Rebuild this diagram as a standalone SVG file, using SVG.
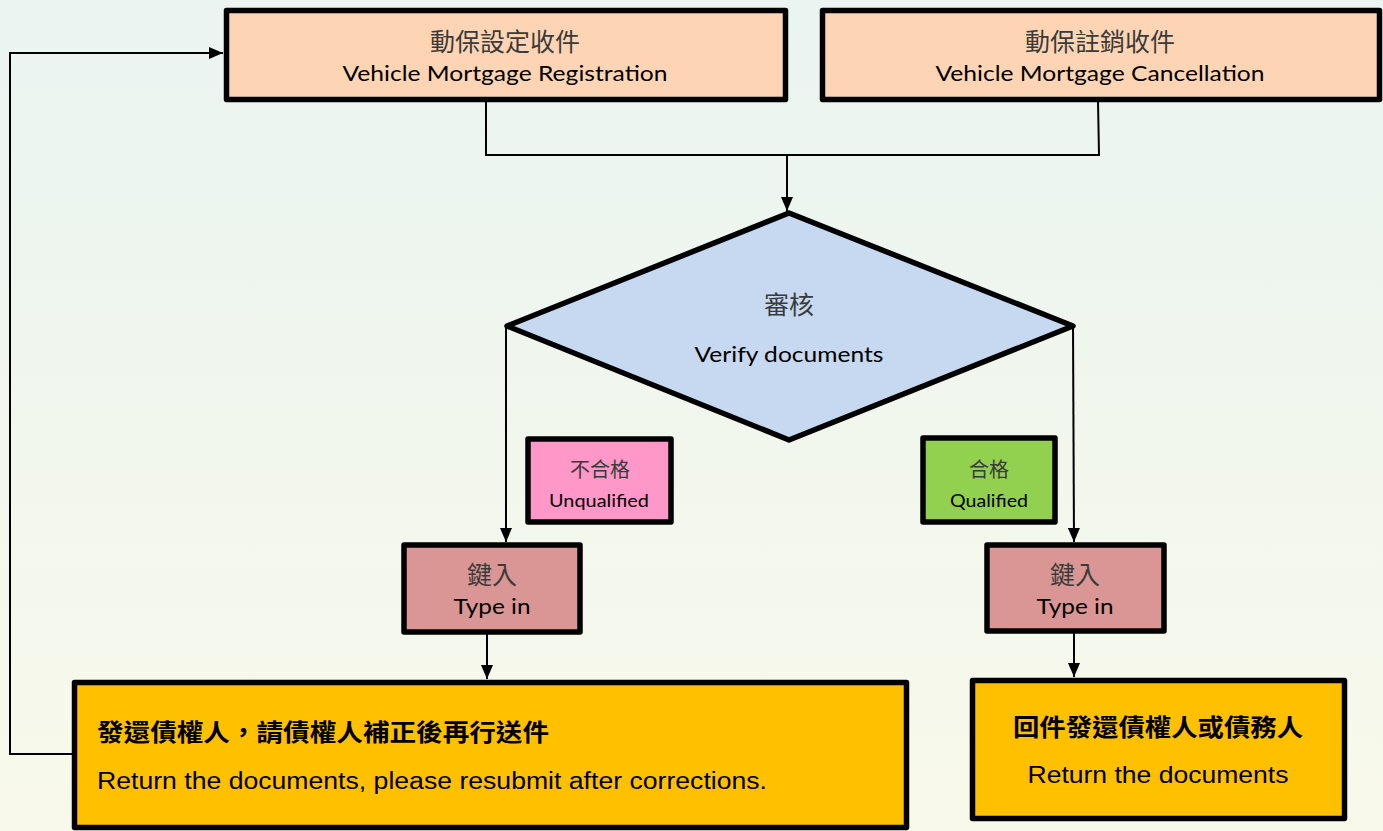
<svg xmlns="http://www.w3.org/2000/svg" width="1383" height="831" viewBox="0 0 1383 831">
<defs>
<linearGradient id="bg" x1="0" y1="0" x2="0" y2="1">
<stop offset="0" stop-color="#EAF4F1"/>
<stop offset="1" stop-color="#F8F9EA"/>
</linearGradient>
<marker id="arr" viewBox="0 0 14 12" refX="14" refY="6" markerWidth="14" markerHeight="12" markerUnits="userSpaceOnUse" orient="auto">
<path d="M0,0 L14,6 L0,12 Z" fill="#000"/>
</marker>
<style>
.box{stroke:#000;stroke-width:5.5;stroke-linejoin:round}
.conn{fill:none;stroke:#000;stroke-width:2}
.cjk{font-family:"Noto Sans CJK TC","Noto Sans CJK SC",sans-serif;fill:#3a3a3a;text-anchor:middle}
.en{font-family:Lato,"Liberation Sans",sans-serif;fill:#000;text-anchor:middle}
.ar{font-family:"Liberation Sans",Arial,sans-serif;fill:#000}
.cjkb{font-family:"Noto Sans CJK TC","Noto Sans CJK SC",sans-serif;fill:#000;font-weight:bold}
</style>
</defs>
<rect width="1383" height="831" fill="url(#bg)"/>

<g id="connectors">
<polyline class="conn" points="486,101 486,155 1099,155 1098,101"/>
<line class="conn" x1="787" y1="155" x2="787" y2="211" marker-end="url(#arr)"/>
<line class="conn" x1="506" y1="326" x2="506" y2="542" marker-end="url(#arr)"/>
<line class="conn" x1="1073" y1="326" x2="1074" y2="542" marker-end="url(#arr)"/>
<line class="conn" x1="487" y1="634" x2="487" y2="679" marker-end="url(#arr)"/>
<line class="conn" x1="1074" y1="633" x2="1074" y2="677" marker-end="url(#arr)"/>
<polyline class="conn" points="72,754 10,754 10,53 223,53" marker-end="url(#arr)"/>
</g>

<g id="node-registration">
<rect class="box" x="226.5" y="10.5" width="559" height="89" fill="#FDD5B4"/>
<text class="cjk" x="505" y="51" font-size="25">動保設定收件</text>
<text class="en" x="505" y="81" font-size="22" textLength="325" lengthAdjust="spacingAndGlyphs">Vehicle Mortgage Registration</text>
</g>

<g id="node-cancellation">
<rect class="box" x="822.5" y="10.5" width="557" height="89" fill="#FDD5B4"/>
<text class="cjk" x="1100" y="51" font-size="25">動保註銷收件</text>
<text class="en" x="1100" y="81" font-size="22" textLength="329" lengthAdjust="spacingAndGlyphs">Vehicle Mortgage Cancellation</text>
</g>

<g id="node-verify">
<polygon class="box" points="789,213 1073,326 789,440 507,326" fill="#C6D9F0"/>
<text class="cjk" x="789" y="314" font-size="25">審核</text>
<text class="en" x="789" y="362" font-size="22" textLength="189" lengthAdjust="spacingAndGlyphs">Verify documents</text>
</g>

<g id="node-unqualified">
<rect class="box" x="528" y="439" width="143" height="83" fill="#FF97C9"/>
<text class="cjk" x="600" y="477" font-size="20">不合格</text>
<text class="en" x="599" y="507" font-size="18" textLength="100" lengthAdjust="spacingAndGlyphs">Unqualified</text>
</g>

<g id="node-qualified">
<rect class="box" x="923" y="438" width="132" height="84" fill="#92D050"/>
<text class="cjk" x="989" y="477" font-size="20">合格</text>
<text class="en" x="989" y="507" font-size="18" textLength="78" lengthAdjust="spacingAndGlyphs">Qualified</text>
</g>

<g id="node-typein-left">
<rect class="box" x="404" y="545" width="176" height="87" fill="#DA9694"/>
<text class="cjk" x="492" y="584" font-size="25">鍵入</text>
<text class="en" x="492" y="614" font-size="22" textLength="77" lengthAdjust="spacingAndGlyphs">Type in</text>
</g>

<g id="node-typein-right">
<rect class="box" x="987" y="545" width="177" height="86" fill="#DA9694"/>
<text class="cjk" x="1075" y="584" font-size="25">鍵入</text>
<text class="en" x="1075" y="614" font-size="22" textLength="77" lengthAdjust="spacingAndGlyphs">Type in</text>
</g>

<g id="node-return-resubmit">
<rect class="box" x="74.5" y="682.5" width="832" height="145" fill="#FFC000"/>
<text class="cjkb" x="97" y="741" font-size="24" textLength="452" lengthAdjust="spacingAndGlyphs">發還債權人，請債權人補正後再行送件</text>
<text class="ar" x="97" y="789" font-size="23" textLength="670" lengthAdjust="spacingAndGlyphs">Return the documents, please resubmit after corrections.</text>
</g>

<g id="node-return">
<rect class="box" x="972.5" y="680.5" width="372" height="138" fill="#FFC000"/>
<text class="cjkb" x="1158" y="736" font-size="24" text-anchor="middle" textLength="290" lengthAdjust="spacingAndGlyphs">回件發還債權人或債務人</text>
<text class="ar" x="1158" y="783" font-size="24" text-anchor="middle" textLength="261" lengthAdjust="spacingAndGlyphs">Return the documents</text>
</g>
</svg>
